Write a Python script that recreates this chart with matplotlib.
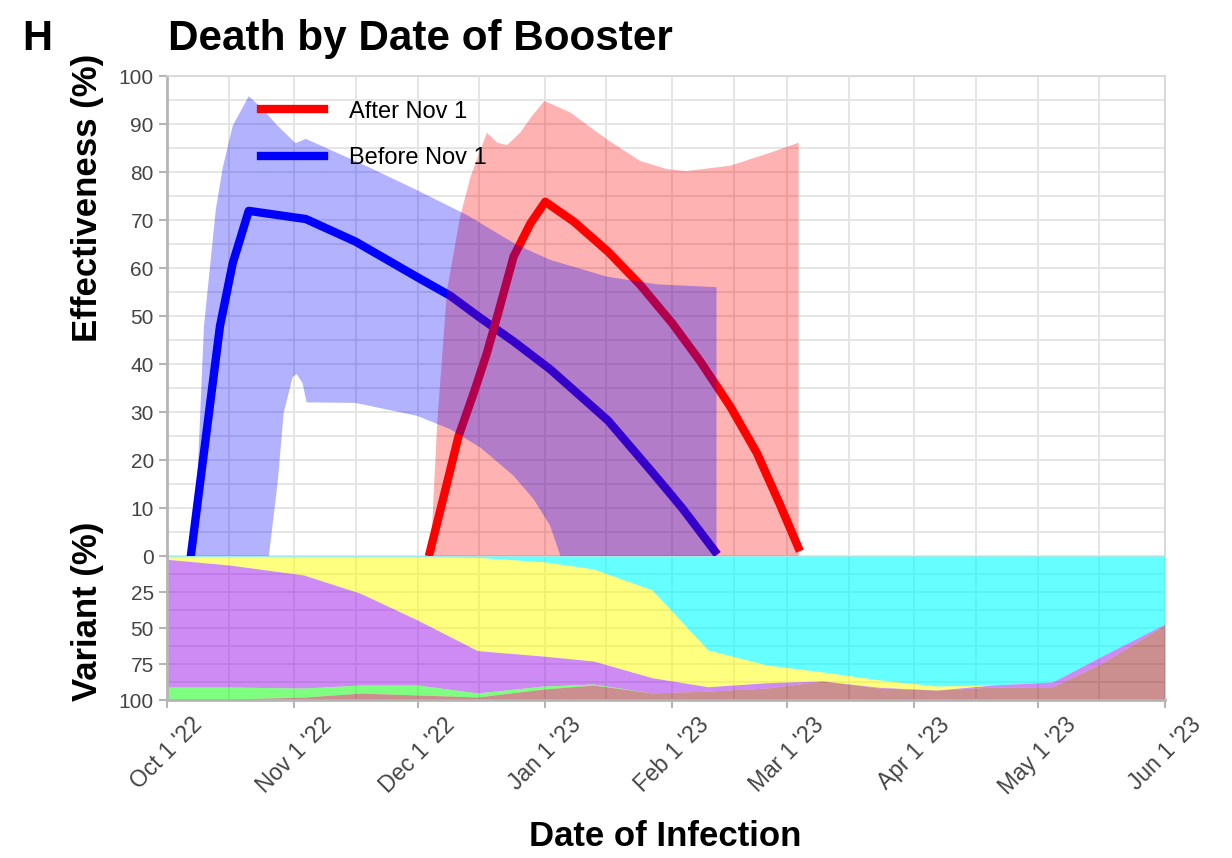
import numpy as np
import pandas as pd
import matplotlib
matplotlib.use("Agg")
import matplotlib.pyplot as plt
import matplotlib.dates as mdates
from matplotlib.lines import Line2D

plt.rcParams['font.family'] = ['Liberation Sans', 'DejaVu Sans']

START = pd.Timestamp("2022-10-01")
END = pd.Timestamp("2023-06-01")

# effectiveness estimates (days after Oct 1 2022, %)
before_days = [5.8, 12.9, 16.0, 19.9, 33.8, 45.9, 60.9, 69.0, 76.3, 84.4, 93.3, 107.4, 118.3, 123.0, 125.6, 133.4]
before_eff = [0, 47.9, 61.0, 71.9, 70.2, 65.5, 58.1, 54.2, 49.6, 44.7, 38.9, 28.2, 17.3, 12.5, 9.8, 1.0]
after_days = [64.0, 67.4, 71.0, 74.7, 77.9, 80.4, 84.4, 88.5, 92.1, 99.0, 107.4, 115.2,
              123.0, 129.8, 137.1, 143.6, 149.2, 153.7]
after_eff = [0.8, 12.5, 25.0, 34.0, 42.3, 49.9, 62.4, 69.3, 73.8, 69.7, 63.4, 56.5,
             48.5, 40.6, 31.2, 21.5, 10.8, 1.8]

# confidence bands
before_hi_days = [6.6, 9.0, 10.2, 11.9, 13.6, 16.0, 19.9, 23.3, 26.5, 31.3, 33.8, 48.4,
                  60.9, 73.1, 85.2, 93.3, 107.1, 119.3, 133.8]
before_hi = [0, 47.9, 58.0, 72.3, 81.0, 89.6, 95.8, 93.1, 90.0, 86.0, 86.9, 81.3,
             76.2, 71.0, 64.8, 61.7, 58.2, 56.6, 56.0]
before_lo_days = [6.6, 24.8, 27.0, 28.4, 30.6, 31.6, 33.0, 34.0, 45.9, 60.9, 69.0,
                  76.3, 84.4, 89.3, 93.3, 95.8, 133.8]
before_lo = [0, 0, 15.8, 29.8, 37.3, 37.9, 36.0, 32.0, 31.9, 29.2, 26.4,
             22.6, 16.7, 11.8, 6.3, 0, 0]
after_hi_days = [64.2, 65.8, 68.2, 71.4, 73.9, 77.9, 80.4, 82.8, 86.0, 88.9, 91.9, 98.2,
                 107.1, 115.2, 121.7, 126.5, 137.1, 146.8, 153.8]
after_hi = [0, 27.8, 55.5, 70.8, 79.0, 88.2, 86.1, 85.6, 88.2, 91.7, 94.8, 92.4,
            86.8, 82.3, 80.6, 80.2, 81.3, 84.0, 86.1]
after_lo_days = [64.2, 153.8]
after_lo = [0, 0]

# variant shares (%), listed from top of panel down
var_days = [0, 15.3, 33.3, 47.1, 61.0, 75.6, 91.6, 103.8, 118.1, 131.7, 146.0, 159.7, 173.5, 187.4, 201.0, 215.6, 227.7, 243]
var_cyan = [0.7, 0.7, 0.7, 0.7, 0.7, 1.0, 4.0, 9.0, 23.6, 65.3, 75.7, 80.6, 86.1, 90.3, 89.6, 87.5, 69.4, 47.2]
var_yellow = [1.6, 5.6, 12.5, 25.2, 43.8, 64.7, 65.5, 63.9, 60.9, 25.5, 12.3, 6.2, 5.1, 2.8, 0, 0, 0, 0]
var_purple = [88.7, 84.7, 78.5, 63.7, 45.1, 29.4, 20.8, 16.0, 10.6, 3.0, 3.7, 0, 0.5, 0, 1.4, 3.3, 4.9, 0.7]
var_green = [8.3, 8.3, 6.3, 5.6, 6.9, 2.8, 2.1, 0.7, 0, 0, 0, 0, 0, 0, 0, 0, 0, 0]
var_brown = [0.7, 0.7, 2.1, 4.9, 3.5, 2.1, 7.6, 10.4, 4.9, 6.2, 8.3, 13.2, 8.3, 6.9, 9.0, 9.0, 25.7, 52.1]

tick_dates = ["2022-10-01", "2022-11-01", "2022-12-01", "2023-01-01", "2023-02-01",
              "2023-03-01", "2023-04-01", "2023-05-01", "2023-06-01"]
tick_labels = ["Oct 1 '22", "Nov 1 '22", "Dec 1 '22", "Jan 1 '23", "Feb 1 '23",
               "Mar 1 '23", "Apr 1 '23", "May 1 '23", "Jun 1 '23"]
minor_dates = ["2022-10-16", "2022-11-16", "2022-12-16", "2023-01-16",
               "2023-02-16", "2023-03-16", "2023-04-16", "2023-05-16"]


def to_dates(days):
    return START + pd.to_timedelta(np.asarray(days, dtype=float), unit="D")


def band(ax, hi_days, hi, lo_days, lo, color):
    xs = np.concatenate([mdates.date2num(to_dates(hi_days)), mdates.date2num(to_dates(lo_days))[::-1]])
    ys = np.concatenate([hi, np.asarray(lo)[::-1]])
    ax.fill(xs, ys, color=color, alpha=0.3, lw=0, zorder=2)


GRID = "#E3E3E3"
SPINE = "#B5B5B5"
TICKC = "#444444"

fig = plt.figure(figsize=(12.32, 8.58), dpi=100)
L, R = 167 / 1232, 1165 / 1232
ax = fig.add_axes([L, 1 - 556 / 858, R - L, (556 - 76) / 858])
ax2 = fig.add_axes([L, 1 - 700 / 858, R - L, (700 - 556) / 858], sharex=ax)

# top panel: lines under the bands
ax.plot(to_dates(before_days), before_eff, color="blue", lw=6, zorder=1)
ax.plot(to_dates(after_days), after_eff, color="red", lw=6, zorder=1)
band(ax, after_hi_days, after_hi, after_lo_days, after_lo, "red")
band(ax, before_hi_days, before_hi, before_lo_days, before_lo, "blue")

ax.set_ylim(0, 100)
ax.set_yticks(np.arange(10, 101, 10))
ax.set_yticks(np.arange(0, 101, 5), minor=True)

# variant panel
layers = [var_cyan, var_yellow, var_purple, var_green, var_brown]
colors = ["#00FFFF", "#FFFF00", "#9F19E9", "#00FF00", "#9B2121"]
alphas = [0.6, 0.5, 0.5, 0.5, 0.5]
vx = to_dates(var_days)
base = np.zeros(len(var_days))
for vals, c, a in zip(layers, colors, alphas):
    top = base + np.asarray(vals)
    ax2.fill_between(vx, base, top, color=c, alpha=a, lw=0, zorder=2)
    base = top
ax2.set_ylim(100, 0)
ax2.set_yticks([0, 25, 50, 75, 100])
ax2.set_yticks(np.arange(0, 101, 12.5), minor=True)

ax2.set_xlim(START, END)
ax2.set_xticks(pd.to_datetime(tick_dates))
ax2.set_xticklabels(tick_labels, rotation=45, ha="center", va="top")
ax2.set_xticks(pd.to_datetime(minor_dates), minor=True)

for a in (ax, ax2):
    a.grid(True, which="both", color=GRID, lw=1.3, zorder=0)
    a.set_axisbelow(True)
    a.tick_params(which="major", colors=SPINE, labelcolor=TICKC, labelsize=15, length=6, width=1.5)
    a.tick_params(which="minor", length=0)
    for s in ("top", "right"):
        a.spines[s].set_color("#D5D5D5")
        a.spines[s].set_linewidth(1.2)
    for s in ("left", "bottom"):
        a.spines[s].set_color(SPINE)
        a.spines[s].set_linewidth(2)
ax2.tick_params(axis="x", labelsize=16.5)
ax.tick_params(axis="x", which="both", labelbottom=False, length=0)
ax.spines["bottom"].set_visible(False)
ax2.spines["top"].set_visible(False)
ax2.spines["right"].set_visible(False)

handles = [Line2D([], [], color="red", lw=6), Line2D([], [], color="blue", lw=6)]
ax.legend(handles, ["After Nov 1", "Before Nov 1"], loc="upper left", bbox_to_anchor=(0.073, 0.993),
          frameon=False, fontsize=17, handlelength=2.67, handletextpad=1.06, labelspacing=1.05)

fig.text(22 / 1232, 1 - 39 / 858, "H", fontsize=30, fontweight="bold", va="center", ha="left")
fig.text(168 / 1232, 1 - 39 / 858, "Death by Date of Booster", fontsize=30.4, fontweight="bold",
         va="center", ha="left")
fig.text(88 / 1232, 1 - 198 / 858, "Effectiveness (%)", fontsize=25, fontweight="bold",
         rotation=90, va="center", ha="center")
fig.text(88 / 1232, 1 - 611 / 858, "Variant (%)", fontsize=25, fontweight="bold",
         rotation=90, va="center", ha="center")
fig.text(665 / 1232, 1 - 836 / 858, "Date of Infection", fontsize=25, fontweight="bold",
         va="center", ha="center")

fig.savefig("out.png", dpi=100)
